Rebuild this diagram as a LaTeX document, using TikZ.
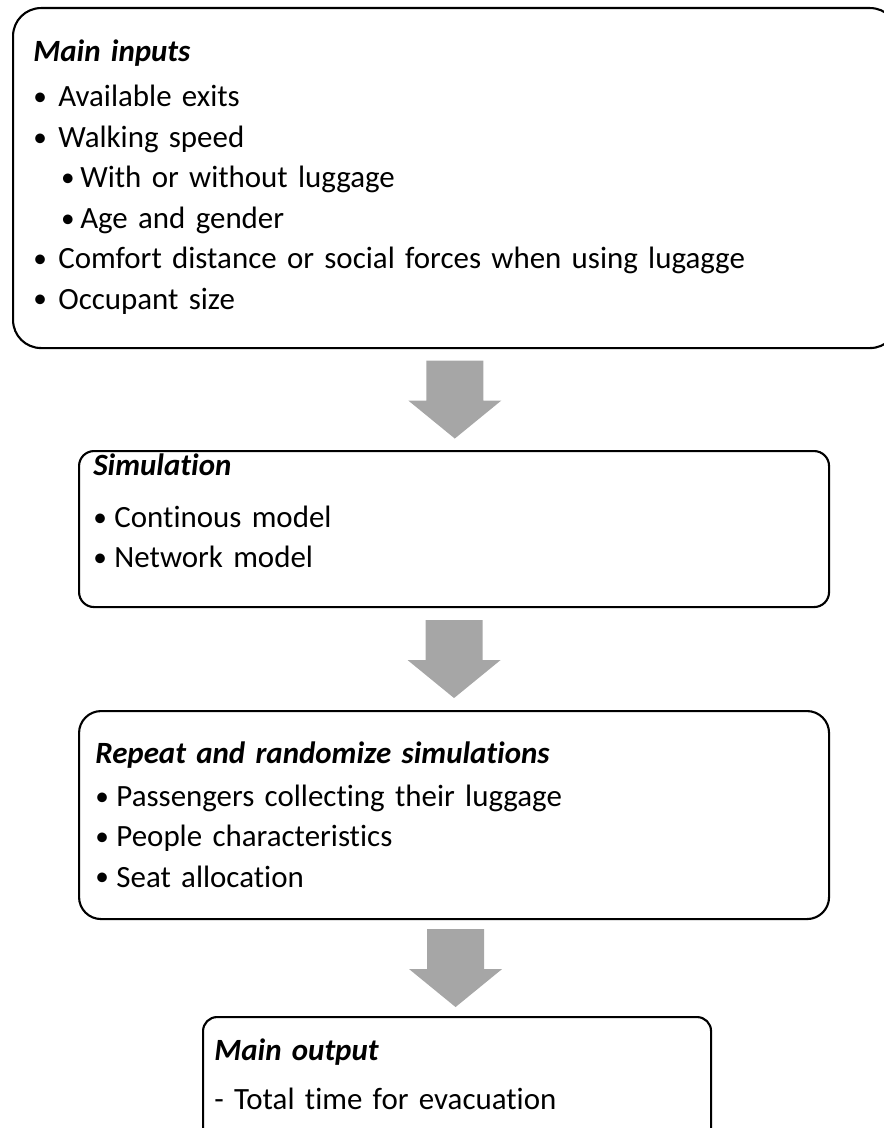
\documentclass[tikz,border=0pt]{standalone}
\usepackage{fontspec}
\setmainfont[Ligatures=NoCommon]{Carlito}
\usetikzlibrary{positioning,calc}
\definecolor{arrowgrey}{RGB}{166,166,166}
\newcommand{\head}[1]{\textbf{\textit{#1}}}
\newcommand{\bulletmark}{{\fontsize{15.5}{15.5}\selectfont\raisebox{0.6pt}{•}}}
\newcommand{\bul}[2][14.2pt]{\makebox[#1][l]{\bulletmark}#2}
\newcommand{\subbul}[1]{\hspace*{15.8pt}\makebox[10.9pt][l]{\bulletmark}#1}
% fat grey arrow halfway between two boxes
\newcommand{\flowarrow}[2]{%
  \coordinate (m) at ($(#1.south)!0.5!(#2.north)$);
  \fill[bigarrow] ($(m)+(-28.5,-39)$) -- ($(m)+(28.5,-39)$) -- ($(m)+(28.5,1)$)
    -- ($(m)+(46.5,1)$) -- ($(m)+(0,39)$) -- ($(m)+(-46.5,1)$) -- ($(m)+(-28.5,1)$) -- cycle;}

\begin{document}
\begin{tikzpicture}[x=0.02cm, y=-0.02cm,
  box/.style={draw, line width=1.2pt, anchor=north west, inner sep=0pt},
  list/.style={anchor=base west, inner sep=0pt, text width=15cm, align=left,
    font=\fontsize{17.6}{23}\selectfont},
  bigarrow/.style={fill=arrowgrey}]
  \useasboundingbox (0,0) rectangle (884,1128);

  % boxes
  \node[box, rounded corners=0.56cm, minimum width=885*0.02cm, minimum height=340*0.02cm] (inputs) at (12,7) {};
  \node[box, rounded corners=0.3cm, minimum width=750*0.02cm, minimum height=156*0.02cm] (sim) at (78,450) {};
  \node[box, rounded corners=0.44cm, minimum width=750*0.02cm, minimum height=208*0.02cm] (repeat) at (78,710) {};
  \node[box, rounded corners=0.28cm, minimum width=508*0.02cm, minimum height=130*0.02cm] (output) at (202,1016) {};

  % contents
  \node[list] (inputs-text) at (33,62) {\head{Main inputs}\\[2.6pt]
    \bul{Available exits}\\
    \bul{Walking speed}\\
    \subbul{With or without luggage}\\
    \subbul{Age and gender}\\
    \bul{Comfort distance or social forces when using lugagge}\\
    \bul{Occupant size}};
  \node[list] (sim-text) at (93,475) {\head{Simulation}\\[6.8pt]
    \bul[12pt]{Continous model}\\
    \bul[12pt]{Network model}};
  \node[list] (repeat-text) at (95,763) {\head{Repeat and randomize simulations}\\[1.6pt]
    \bul[12pt]{Passengers collecting their luggage}\\
    \bul[12pt]{People characteristics}\\
    \bul[12pt]{Seat allocation}};
  \node[list] (output-text) at (214,1060) {\head{Main output}\\[5pt]
    - Total time for evacuation};

  % arrows
  \flowarrow{inputs}{sim}
  \flowarrow{sim}{repeat}
  \flowarrow{repeat}{output}
\end{tikzpicture}
\end{document}
